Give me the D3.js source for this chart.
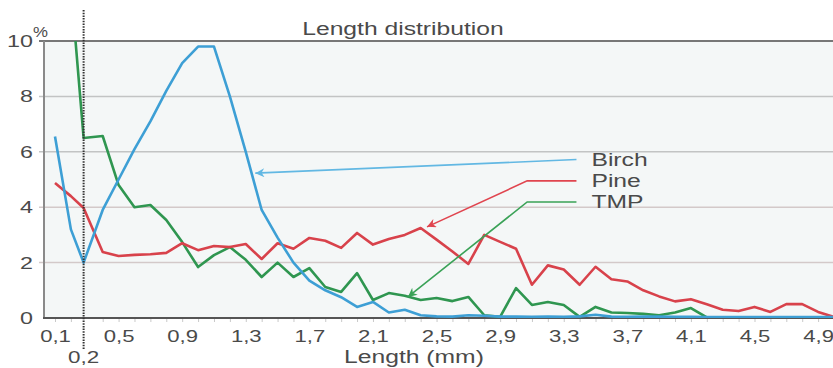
<!DOCTYPE html>
<html>
<head>
<meta charset="utf-8">
<script src="https://cdn.jsdelivr.net/npm/d3@7"></script>
<style>
body{margin:0;background:#fff;}
text{font-family:"Liberation Sans",Arial,sans-serif;fill:#4a4a4a;}
</style>
</head>
<body>
<svg id="chart"></svg>
<script>
// fibre length bins (mm); third bin sits on the 0,2 cut-off line
var lengths = [0.1,0.2,0.28,0.4,0.5,0.6,0.7,0.8,0.9,1.0,
               1.1,1.2,1.3,1.4,1.5,1.6,1.7,1.8,1.9,2.0,
               2.1,2.2,2.3,2.4,2.5,2.6,2.7,2.8,2.9,3.0,
               3.1,3.2,3.3,3.4,3.5,3.6,3.7,3.8,3.9,4.0,
               4.1,4.2,4.3,4.4,4.5,4.6,4.7,4.8,4.9,5.0];

var birch = [6.55,3.2,2.0,3.9,5.0,6.1,7.1,8.2,9.2,9.8,
             9.8,8.0,6.0,3.9,2.9,2.0,1.35,1.0,0.75,0.4,
             0.58,0.2,0.3,0.1,0.06,0.05,0.1,0.08,0.05,0.05,
             0.04,0.05,0.04,0.06,0.12,0.05,0.04,0.05,0.05,0.04,
             0.04,0.03,0.03,0.03,0.03,0.03,0.03,0.03,0.03,0.03];

var pine = [4.87,4.4,3.97,2.38,2.24,2.28,2.3,2.35,2.7,2.45,
            2.6,2.56,2.67,2.13,2.7,2.5,2.89,2.79,2.53,3.07,
            2.65,2.85,3.0,3.25,2.83,2.4,1.95,3.0,2.75,2.5,
            1.2,1.9,1.75,1.2,1.85,1.4,1.32,1.0,0.78,0.6,
            0.68,0.5,0.3,0.25,0.4,0.22,0.5,0.5,0.22,0.04];

var tmp = [null,12,6.5,6.57,4.8,4.0,4.08,3.54,2.74,1.84,
           2.27,2.56,2.1,1.48,2.0,1.48,1.8,1.12,0.94,1.62,
           0.65,0.9,0.8,0.65,0.72,0.61,0.76,0.1,0.04,1.08,
           0.47,0.58,0.47,0.04,0.4,0.2,0.18,0.15,0.1,0.2,
           0.36,0.02,0.02,0.02,0.02,0.02,0.02,0.02,0.02,0.02];

var xTicks = [0.1,0.5,0.9,1.3,1.7,2.1,2.5,2.9,3.3,3.7,4.1,4.5,4.9];
var yTicks = [0,2,4,6,8,10];
var cutoff = 0.28;
var cutoffLabel = "0,2";

// label name, arrow tip [mm,%], elbow [mm,%], label end [mm,%]
var notes = [
    {name:"Birch", tip:[1.36,5.23], elbow:[3.38,5.72], end:[3.38,5.72]},
    {name:"Pine",  tip:[2.44,3.29], elbow:[3.07,4.95], end:[3.38,4.95]},
    {name:"TMP",   tip:[2.32,0.76], elbow:[3.07,4.19], end:[3.38,4.19]}
];

var colors = {Birch:"#3d9fd5", Pine:"#d8424b", TMP:"#2f9650"};
var noteColors = {Birch:"#62b8e3", Pine:"#e0454f", TMP:"#3aa257"};

var screen = {width:833, height:368};
var margins = {top:41, bottom:50, left:44, right:0};
var graph = {
    width:screen.width-margins.left-margins.right,
    height:screen.height-margins.top-margins.bottom
};
var squeeze = 1.37; // the picture's lettering is drawn wide

var stretch = function(sel, k){
    sel.each(function(){
        var w = this.getComputedTextLength();
        d3.select(this)
            .attr("textLength", w*k)
            .attr("lengthAdjust","spacingAndGlyphs");
    });
};

var svg = d3.select("#chart")
    .attr("width",screen.width)
    .attr("height",screen.height);

var xScale = d3.scaleLinear()
    .domain([0.1,5.0])
    .range([55,834]);

var yScale = d3.scaleLinear()
    .domain([0,10])
    .range([margins.top+graph.height, margins.top]);

var x0 = margins.left, x1 = screen.width;

// plot background
svg.append("rect")
    .attr("x",x0)
    .attr("y",yScale(10))
    .attr("width",x1-x0)
    .attr("height",yScale(0)-yScale(10))
    .attr("fill","#f4f7f7");

svg.append("clipPath")
    .attr("id","plot")
    .append("rect")
    .attr("x",x0)
    .attr("y",yScale(10))
    .attr("width",x1-x0)
    .attr("height",yScale(0)-yScale(10));

// grid lines
svg.append("g")
    .selectAll("line")
    .data(yTicks.filter(function(t){return t>0 && t<10;}))
    .enter()
    .append("line")
    .attr("x1",x0-5)
    .attr("x2",x1)
    .attr("y1",function(t){return yScale(t);})
    .attr("y2",function(t){return yScale(t);})
    .attr("stroke",function(t){return t<5 ? "#d3c9c9" : "#c2c4c4";})
    .attr("stroke-width",1.5);

// top frame
svg.append("line")
    .attr("x1",x0-5).attr("x2",x1)
    .attr("y1",yScale(10)).attr("y2",yScale(10))
    .attr("stroke","#777").attr("stroke-width",1.8);

// y axis
var yAxis = d3.axisLeft(yScale)
    .tickValues(yTicks)
    .tickSize(0)
    .tickPadding(11)
    .tickFormat(d3.format("d"));

var ya = svg.append("g")
    .attr("transform","translate("+x0+",0)")
    .call(yAxis);
ya.select(".domain").remove();
ya.selectAll("text")
    .attr("font-size",17)
    .attr("fill","#555")
    .attr("font-family","Liberation Sans, Arial, sans-serif")
    .call(stretch,squeeze);

svg.append("text")
    .text("%")
    .attr("x",x0-11)
    .attr("y",yScale(10)-4)
    .attr("font-size",14)
    .attr("fill","#555")
    .call(stretch,1.2);

svg.append("line")
    .attr("x1",x0).attr("x2",x0)
    .attr("y1",yScale(10)).attr("y2",yScale(0))
    .attr("stroke","#8a8a8a").attr("stroke-width",2);

// minor ticks every 0.1 mm
var xMinor = d3.axisBottom(xScale)
    .tickValues(lengths.filter(function(d,i){return i!=2;}))
    .tickSize(4)
    .tickFormat("");
var xm = svg.append("g")
    .attr("transform","translate(0,"+yScale(0)+")")
    .call(xMinor);
xm.select(".domain").remove();
xm.selectAll("line").attr("stroke","#c9c9c9").attr("stroke-width",1);

// x axis labels
var xAxis = d3.axisBottom(xScale)
    .tickValues(xTicks)
    .tickSize(0)
    .tickPadding(12)
    .tickFormat(function(d){return d3.format(".1f")(d).replace(".",",");});
var xa = svg.append("g")
    .attr("transform","translate(0,"+yScale(0)+")")
    .call(xAxis);
xa.select(".domain").remove();
xa.selectAll("text")
    .attr("font-size",17)
    .attr("fill","#555")
    .attr("font-family","Liberation Sans, Arial, sans-serif")
    .call(stretch,1.3);

svg.append("line")
    .attr("x1",x0-1).attr("x2",x1)
    .attr("y1",yScale(0)).attr("y2",yScale(0))
    .attr("stroke","#555").attr("stroke-width",2);

// series lines
var lineGenerator = d3.line()
    .defined(function(d){return d[1]!=null;})
    .x(function(d){return xScale(d[0]);})
    .y(function(d){return yScale(d[1]);});

var series = [
    {name:"TMP", values:tmp},
    {name:"Pine", values:pine},
    {name:"Birch", values:birch}
];

svg.append("g")
    .attr("clip-path","url(#plot)")
    .selectAll("path")
    .data(series)
    .enter()
    .append("path")
    .attr("fill","none")
    .attr("stroke",function(s){return colors[s.name];})
    .attr("stroke-width",2.6)
    .attr("stroke-linejoin","round")
    .attr("d",function(s){
        return lineGenerator(s.values.map(function(v,i){return [lengths[i],v];}));
    });

// cut-off marker
svg.append("line")
    .attr("x1",xScale(cutoff)).attr("x2",xScale(cutoff))
    .attr("y1",10).attr("y2",350)
    .attr("stroke","#333")
    .attr("stroke-width",2)
    .attr("stroke-dasharray","1.5,1.2");

svg.append("text")
    .text(cutoffLabel)
    .attr("x",xScale(cutoff))
    .attr("y",363)
    .attr("text-anchor","middle")
    .attr("font-size",16)
    .attr("fill","#555")
    .call(stretch,1.4);

// annotations
var marker = svg.append("defs");
notes.forEach(function(n){
    marker.append("marker")
        .attr("id","arrow"+n.name)
        .attr("viewBox","0 0 10 10")
        .attr("refX",10)
        .attr("refY",5)
        .attr("markerWidth",12)
        .attr("markerHeight",9)
        .attr("markerUnits","userSpaceOnUse")
        .attr("orient","auto-start-reverse")
        .append("path")
        .attr("d","M0,0 L10,5 L0,10 L3,5 Z")
        .attr("fill",noteColors[n.name]);
});

var noteLine = d3.line()
    .x(function(p){return xScale(p[0]);})
    .y(function(p){return yScale(p[1]);});

var ann = svg.append("g")
    .selectAll("g")
    .data(notes)
    .enter()
    .append("g");

ann.append("path")
    .attr("fill","none")
    .attr("stroke",function(n){return noteColors[n.name];})
    .attr("stroke-width",1.6)
    .attr("marker-start",function(n){return "url(#arrow"+n.name+")";})
    .attr("d",function(n){return noteLine([n.tip,n.elbow,n.end]);});

ann.append("text")
    .text(function(n){return n.name;})
    .attr("x",function(n){return xScale(n.end[0])+15;})
    .attr("y",function(n){return yScale(n.end[1]);})
    .attr("dy","0.36em")
    .attr("font-size",18)
    .attr("fill","#4a4a4a")
    .call(stretch,squeeze);

// titles
svg.append("text")
    .text("Length distribution")
    .attr("x",403)
    .attr("y",35)
    .attr("text-anchor","middle")
    .attr("font-size",18)
    .attr("fill","#444")
    .call(stretch,squeeze);

svg.append("text")
    .text("Length (mm)")
    .attr("x",414)
    .attr("y",363)
    .attr("text-anchor","middle")
    .attr("font-size",18)
    .attr("fill","#555")
    .call(stretch,squeeze);
</script>
</body>
</html>
